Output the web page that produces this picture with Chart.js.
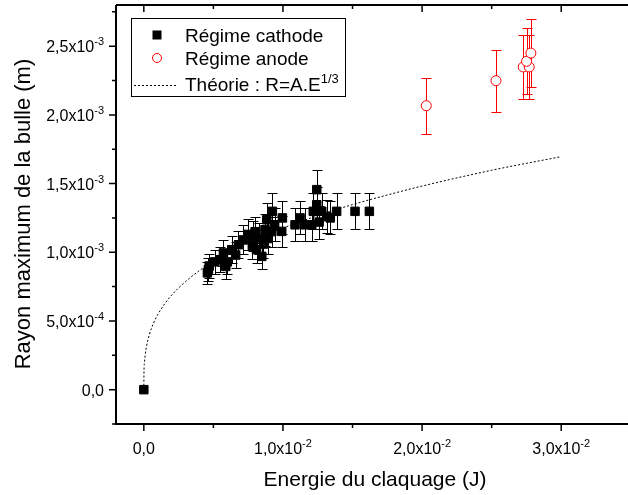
<!DOCTYPE html>
<html lang="fr">
<head>
<meta charset="UTF-8">
<title>Rayon maximum de la bulle</title>
<script src="https://cdn.jsdelivr.net/npm/chart.js"></script>
<style>
    html, body { margin: 0; padding: 0; background: #fff; overflow: hidden; }
    #chart_container { width: 628px; height: 495px; }
</style>
</head>
<body>
<div id="chart_container"><canvas id="bubble_chart" width="628" height="495"></canvas></div>
<script>
    // Régime cathode : énergie (J), rayon max (m), barre d'erreur (m)
    const cathodeEnergy = [0, 0.00457, 0.00464, 0.00470, 0.00510, 0.00548, 0.00572, 0.00589, 0.00600,
        0.00632, 0.00660, 0.00680, 0.00716, 0.00750, 0.00780, 0.00787, 0.00800, 0.00810, 0.00830,
        0.00848, 0.00860, 0.00871, 0.00884, 0.00890, 0.00920, 0.00924, 0.00940, 0.00991, 0.00996,
        0.01087, 0.01123, 0.01159, 0.01207, 0.01218, 0.01243, 0.01243, 0.01260, 0.01279, 0.01315,
        0.01340, 0.01386, 0.01518, 0.01621];
    const cathodeRadius = [0, 0.000850, 0.000873, 0.000900, 0.000930, 0.000946, 0.000995, 0.000897, 0.000930,
        0.001019, 0.000980, 0.001055, 0.001090, 0.001130, 0.001050, 0.001116, 0.001150, 0.001019, 0.001100,
        0.000970, 0.001060, 0.001164, 0.001237, 0.001100, 0.001150, 0.001298, 0.001200, 0.001152, 0.001250,
        0.001200, 0.001250, 0.001200, 0.001200, 0.001298, 0.001456, 0.001346, 0.001220, 0.001298, 0.001260,
        0.001250, 0.001298, 0.001298, 0.001298];
    const cathodeError = [0, 0.000080, 0.000085, 0.000085, 0.000090, 0.000090, 0.000095, 0.000090, 0.000090,
        0.000100, 0.000095, 0.000100, 0.000105, 0.000110, 0.000100, 0.000110, 0.000110, 0.000100, 0.000110,
        0.000095, 0.000105, 0.000115, 0.000120, 0.000110, 0.000110, 0.000130, 0.000120, 0.000110, 0.000120,
        0.000120, 0.000120, 0.000120, 0.000120, 0.000130, 0.000140, 0.000130, 0.000120, 0.000130, 0.000120,
        0.000120, 0.000130, 0.000130, 0.000130];

    // Régime anode
    const anodeEnergy = [0.02030, 0.02531, 0.02727, 0.02770, 0.02751, 0.02782];
    const anodeRadius = [0.002067, 0.002249, 0.002349, 0.002349, 0.002390, 0.002450];
    const anodeError = [0.000205, 0.000225, 0.000235, 0.000235, 0.000240, 0.000250];

    const theoryEnergy = [0, 0.00001, 0.00005, 0.0001, 0.0002, 0.0004, 0.0007, 0.001, 0.0015, 0.002,
        0.003, 0.004, 0.005, 0.0065, 0.008, 0.01, 0.0125, 0.015, 0.0175, 0.02, 0.025, 0.03];
    const theoryRadius = [0, 0.000118, 0.000201, 0.000253, 0.000319, 0.000402, 0.000485, 0.000546, 0.000625, 0.000688,
        0.000787, 0.000867, 0.000934, 0.001019, 0.001092, 0.001176, 0.001267, 0.001347, 0.001417, 0.001482, 0.001597, 0.001696];

    // Graduations
    const xTickValues = [0, 0.01, 0.02, 0.03];
    const xTickBase = ['0,0', '1,0x10', '2,0x10', '3,0x10'];
    const xTickExp = ['', '-2', '-2', '-2'];
    const yTickValues = [0, 0.0005, 0.001, 0.0015, 0.002, 0.0025];
    const yTickBase = ['0,0', '5,0x10', '1,0x10', '1,5x10', '2,0x10', '2,5x10'];
    const yTickExp = ['', '-4', '-3', '-3', '-3', '-3'];
    const xMinorStep = 0.005, yMinorStep = 0.00025;

    const FONT = '"Liberation Sans", Arial, sans-serif';

    function to_points(xs, ys) {
        return xs.map((x, i) => ({ x: x, y: ys[i] }));
    }

    // Text with an exponent, aligned 'left', 'center' or 'right' around x
    function draw_sup_text(ctx, base, exp, x, y, size, expSize, raise, align) {
        ctx.font = size + 'px ' + FONT;
        const wb = ctx.measureText(base).width;
        ctx.font = expSize + 'px ' + FONT;
        const we = exp ? ctx.measureText(exp).width : 0;
        let x0 = x;
        if (align === 'center') x0 = x - (wb + we) / 2;
        if (align === 'right') x0 = x - (wb + we);
        ctx.textAlign = 'left';
        ctx.textBaseline = 'alphabetic';
        ctx.font = size + 'px ' + FONT;
        ctx.fillText(base, x0, y);
        if (exp) {
            ctx.font = expSize + 'px ' + FONT;
            ctx.fillText(exp, x0 + wb, y - raise);
        }
    }

    const errorBarsPlugin = {
        id: 'error_bars',
        beforeDatasetsDraw(chart) {
            const ctx = chart.ctx, xs = chart.scales.x, ys = chart.scales.y;
            ctx.save();
            ctx.lineWidth = 1;
            chart.data.datasets.forEach(ds => {
                if (!ds.errors) return;
                ds.data.forEach((p, i) => {
                    const e = ds.errors[i];
                    if (!e) return;
                    const px = Math.round(xs.getPixelForValue(p.x)) + 0.5;
                    const top = Math.round(ys.getPixelForValue(p.y + e)) + 0.5;
                    const bot = Math.round(ys.getPixelForValue(p.y - e)) + 0.5;
                    ctx.strokeStyle = ds.borderColor;
                    ctx.beginPath();
                    ctx.moveTo(px, top); ctx.lineTo(px, bot);
                    ctx.moveTo(px - 5, top); ctx.lineTo(px + 5, top);
                    ctx.moveTo(px - 5, bot); ctx.lineTo(px + 5, bot);
                    ctx.stroke();
                });
            });
            ctx.restore();
        }
    };

    const axesPlugin = {
        id: 'origin_axes',
        afterDraw(chart) {
            const ctx = chart.ctx, xs = chart.scales.x, ys = chart.scales.y, a = chart.chartArea;
            ctx.save();
            ctx.strokeStyle = '#000';
            ctx.fillStyle = '#000';
            ctx.lineWidth = 2;

            // Axis frame: left, bottom and top
            ctx.beginPath();
            ctx.moveTo(a.left, a.top); ctx.lineTo(a.left, a.bottom); ctx.lineTo(a.right, a.bottom);
            ctx.moveTo(a.left, a.top); ctx.lineTo(a.right, a.top);
            ctx.stroke();

            // X ticks (bottom outward, top inward)
            ctx.lineWidth = 1.5;
            ctx.beginPath();
            for (let k = Math.ceil(xs.min / xMinorStep); k * xMinorStep <= xs.max; k++) {
                const px = xs.getPixelForValue(k * xMinorStep);
                const len = (k % 2 === 0) ? 7 : 4;
                ctx.moveTo(px, a.bottom); ctx.lineTo(px, a.bottom + len);
                ctx.moveTo(px, a.top); ctx.lineTo(px, a.top + len);
            }
            // Y ticks (left outward)
            for (let k = Math.ceil(ys.min / yMinorStep); k * yMinorStep <= ys.max + 1e-9; k++) {
                const py = ys.getPixelForValue(k * yMinorStep);
                const len = (k % 2 === 0) ? 7 : 4;
                ctx.moveTo(a.left - len, py); ctx.lineTo(a.left, py);
            }
            ctx.stroke();

            // Tick labels
            xTickValues.forEach((v, i) => {
                draw_sup_text(ctx, xTickBase[i], xTickExp[i], xs.getPixelForValue(v), a.bottom + 30, 16, 11, 7, 'center');
            });
            yTickValues.forEach((v, i) => {
                draw_sup_text(ctx, yTickBase[i], yTickExp[i], a.left - 12, ys.getPixelForValue(v) + 6, 16, 11, 7, 'right');
            });

            // Axis titles
            ctx.font = '21px ' + FONT;
            ctx.textAlign = 'center';
            ctx.textBaseline = 'alphabetic';
            ctx.fillText('Energie du claquage (J)', 375, 486);
            ctx.save();
            ctx.translate(30, 214);
            ctx.rotate(-Math.PI / 2);
            ctx.font = '22px ' + FONT;
            ctx.fillText('Rayon maximum de la bulle (m)', 0, 0);
            ctx.restore();

            // Legend
            ctx.fillStyle = '#fff';
            ctx.fillRect(131.5, 18.5, 214, 78);
            ctx.lineWidth = 1;
            ctx.strokeStyle = '#000';
            ctx.strokeRect(131.5, 18.5, 214, 78);
            ctx.fillStyle = '#000';
            ctx.fillRect(152.5, 30.5, 9, 9);
            ctx.strokeStyle = '#ff0000';
            ctx.beginPath();
            ctx.arc(157, 58, 4.5, 0, Math.PI * 2);
            ctx.stroke();
            ctx.strokeStyle = '#000';
            ctx.setLineDash([2, 2]);
            ctx.beginPath();
            ctx.moveTo(134, 85.5); ctx.lineTo(176, 85.5);
            ctx.stroke();
            ctx.setLineDash([]);
            ctx.fillStyle = '#000';
            draw_sup_text(ctx, 'Régime cathode', '', 185, 42, 19, 13, 0, 'left');
            draw_sup_text(ctx, 'Régime anode', '', 185, 65, 19, 13, 0, 'left');
            draw_sup_text(ctx, 'Théorie : R=A.E', '1/3', 185, 91, 19, 13, 8, 'left');
            ctx.restore();
        }
    };

    const ctx = document.getElementById('bubble_chart').getContext('2d');
    const chart = new Chart(ctx, {
        type: 'scatter',
        data: {
            datasets: [{
                label: 'Régime cathode',
                data: to_points(cathodeEnergy, cathodeRadius),
                errors: cathodeError,
                pointStyle: 'rect',
                pointRadius: 6,
                backgroundColor: '#000',
                borderColor: '#000',
                borderWidth: 1,
                order: 1
            }, {
                label: 'Régime anode',
                data: to_points(anodeEnergy, anodeRadius),
                errors: anodeError,
                pointStyle: 'circle',
                pointRadius: 5,
                backgroundColor: '#fff',
                borderColor: '#ff0000',
                borderWidth: 1,
                order: 2
            }, {
                label: 'Théorie : R=A.E^1/3',
                data: to_points(theoryEnergy, theoryRadius),
                showLine: true,
                pointRadius: 0,
                borderColor: '#000',
                borderWidth: 1,
                borderDash: [2, 2],
                cubicInterpolationMode: 'monotone',
                order: 3
            }]
        },
        options: {
            responsive: false,
            animation: false,
            events: [],
            layout: { autoPadding: false, padding: { left: 116, top: 5, right: 0, bottom: 71 } },
            plugins: { legend: { display: false }, tooltip: { enabled: false } },
            scales: {
                x: { type: 'linear', min: -0.002, max: 0.0348, display: false },
                y: { type: 'linear', min: -0.00025, max: 0.0028, display: false }
            }
        },
        plugins: [errorBarsPlugin, axesPlugin]
    });
</script>
</body>
</html>
